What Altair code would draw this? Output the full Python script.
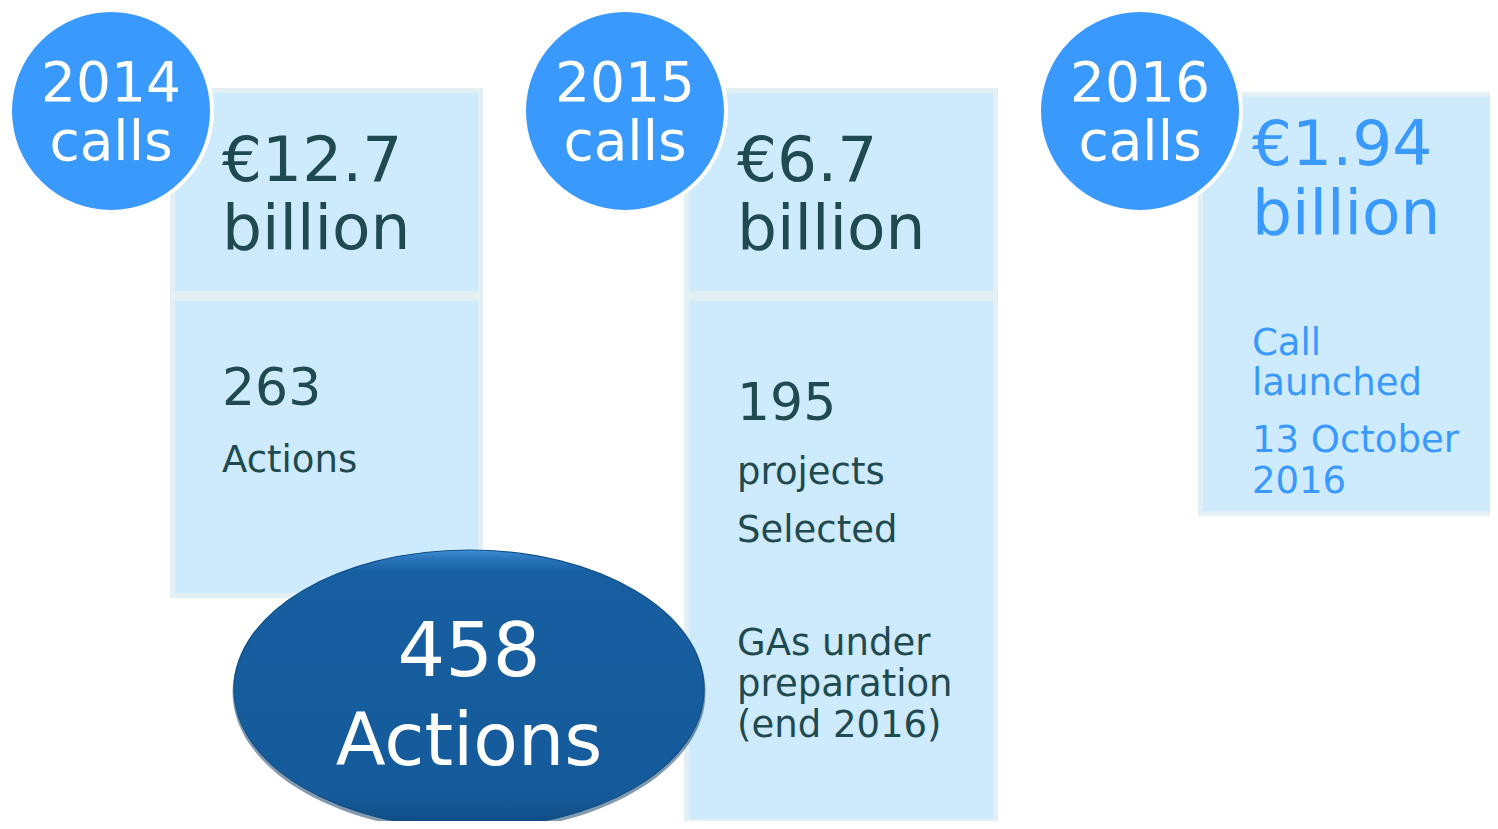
import altair as alt
import pandas as pd

# ---------------- content ----------------
call_years = ["2014", "2015", "2016"]
call_word = "calls"
budgets = ["€12.7", "€6.7", "€1.94"]
budget_unit = "billion"
counts = ["263", "195"]
count_labels = [["Actions"], ["projects", "Selected"]]
status_2015 = ["GAs under", "preparation", "(end 2016)"]
status_2016 = ["Call", "launched", "13 October", "2016"]
total_value = "458"
total_label = "Actions"

# ---------------- layout (pixel positions in the page) ----------------
W, H = 1482, 813
circle_cx = [111, 625, 1140]
circle_cy = 111
circle_r = 101
col_x = [(170, 483), (684, 998), (1198, 1502)]
cell_y = [[(88, 296), (296, 598)], [(88, 296), (296, 824)], [(92, 516)]]
text_x = [222, 737, 1252]
budget_base = [(181, 249), (181, 249), (165, 234)]
count_base = [[405, 472], [420, 484, 542]]
status_2015_base = [655, 696, 737]
status_2016_base = [355, 395, 452, 493]
ell_cx, ell_cy, ell_rx, ell_ry = 469, 689, 235, 139
total_base = [676, 765]

DARK = "#1F4A4F"
BLUE = "#3999FD"
CELL = "#CDEBFC"
EDGE = "#E2F0F5"

xs = alt.Scale(domain=[8, 8 + W], nice=False, zero=False)
ys = alt.Scale(domain=[8 + H, 8], nice=False, zero=False)

def X(f):
    return alt.X(f, type="quantitative", scale=xs, axis=None)

def Y(f):
    return alt.Y(f, type="quantitative", scale=ys, axis=None)

# ---- cells ----
cells = []
for i, (xa, xb) in enumerate(col_x):
    for (ya, yb) in cell_y[i]:
        cells.append({"x": xa + 2.5, "x2": xb - 2.5, "y": ya + 2.5, "y2": yb - 2.5})
cells_df = pd.DataFrame(cells)
cell_layer = alt.Chart(cells_df).mark_rect(fill=CELL, stroke=EDGE, strokeWidth=5).encode(
    x=X("x"), x2="x2", y=Y("y"), y2="y2"
)

# ---- ellipse ----
ratio = ell_ry / ell_rx
ell_path = f"M-1,0A1,{ratio:.4f},0,1,0,1,0A1,{ratio:.4f},0,1,0,-1,0"
ell_size = (2 * ell_rx) ** 2
ell_df = pd.DataFrame([{"x": ell_cx, "y": ell_cy, "ys": ell_cy + 3}])
shadow_layer = alt.Chart(ell_df).mark_point(
    shape=ell_path, filled=True, fill="#0a3560", fillOpacity=0.5, strokeWidth=0
).encode(x=X("x"), y=Y("ys"), size=alt.value((2 * ell_rx + 3) ** 2))
ell_layer = alt.Chart(ell_df).mark_point(
    shape=ell_path,
    filled=True,
    fill={
        "gradient": "linear",
        "x1": 0, "y1": 0, "x2": 0, "y2": 1,
        "stops": [
            {"offset": 0, "color": "#3f8fd6"},
            {"offset": 0.03, "color": "#2a76bb"},
            {"offset": 0.08, "color": "#175fa1"},
            {"offset": 0.88, "color": "#155b9b"},
            {"offset": 1, "color": "#0f4a80"},
        ],
    },
    stroke="#114f88",
    strokeWidth=1.2,
    opacity=1,
).encode(x=X("x"), y=Y("y"), size=alt.value(ell_size))

# ---- circles ----
circ_df = pd.DataFrame([{"x": cx, "y": circle_cy} for cx in circle_cx])
circ_layer = alt.Chart(circ_df).mark_circle(
    fill=BLUE, stroke="white", strokeWidth=4, opacity=1
).encode(x=X("x"), y=Y("y"), size=alt.value((2 * circle_r) ** 2))

# ---- texts ----
left_rows = []
for i in range(3):
    col = BLUE if i == 2 else DARK
    left_rows.append({"x": text_x[i], "y": budget_base[i][0], "t": budgets[i], "s": 63, "c": col})
    left_rows.append({"x": text_x[i], "y": budget_base[i][1], "t": budget_unit, "s": 63, "c": col})
for i in range(2):
    left_rows.append({"x": text_x[i], "y": count_base[i][0], "t": counts[i], "s": 52, "c": DARK})
    for j, lab in enumerate(count_labels[i]):
        left_rows.append({"x": text_x[i], "y": count_base[i][j + 1], "t": lab, "s": 37, "c": DARK})
for j, lab in enumerate(status_2015):
    left_rows.append({"x": text_x[1], "y": status_2015_base[j], "t": lab, "s": 37, "c": DARK})
for j, lab in enumerate(status_2016):
    left_rows.append({"x": text_x[2], "y": status_2016_base[j], "t": lab, "s": 37, "c": BLUE})
left_df = pd.DataFrame(left_rows)

center_rows = []
for i in range(3):
    center_rows.append({"x": circle_cx[i], "y": 101, "t": call_years[i], "s": 55, "c": "white"})
    center_rows.append({"x": circle_cx[i], "y": 160, "t": call_word, "s": 55, "c": "white"})
center_rows.append({"x": ell_cx, "y": total_base[0], "t": total_value, "s": 75, "c": "white"})
center_rows.append({"x": ell_cx, "y": total_base[1], "t": total_label, "s": 73, "c": "white"})
center_df = pd.DataFrame(center_rows)

def text_layer(df, align):
    return alt.Chart(df).mark_text(
        align=align, baseline="alphabetic", font="DejaVu Sans"
    ).encode(
        x=X("x"), y=Y("y"), text="t:N",
        size=alt.Size("s:Q", scale=None),
        color=alt.Color("c:N", scale=None),
    )

chart = alt.layer(
    cell_layer,
    shadow_layer,
    ell_layer,
    circ_layer,
    text_layer(left_df, "left"),
    text_layer(center_df, "center"),
).properties(
    width=W, height=H, padding=0, autosize=alt.AutoSizeParams(type="none"), background="white"
).configure_view(stroke=None)

chart.save("out.html", embed_options={"renderer": "svg", "actions": False})
